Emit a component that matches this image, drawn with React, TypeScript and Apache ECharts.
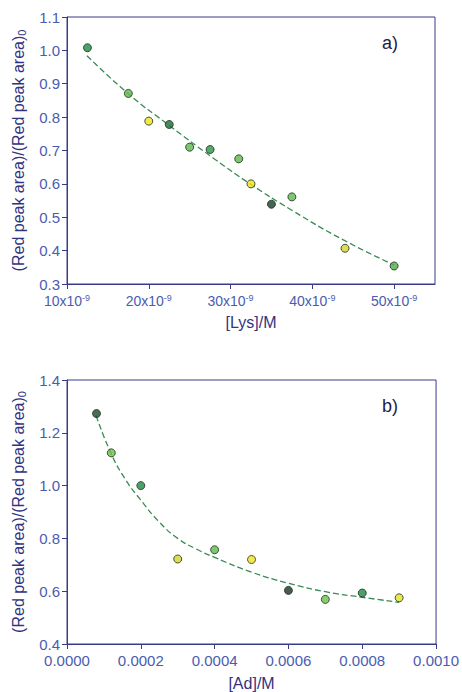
import React, { useEffect, useRef } from "react";
import * as echarts from "echarts";

// Panel a) : [Lys] in units of 1e-9 M
const lysX = [12.5, 17.5, 20, 22.5, 25, 27.5, 31, 32.5, 35, 37.5, 44, 50];
const lysY = [1.008, 0.871, 0.788, 0.778, 0.71, 0.703, 0.675, 0.6, 0.539, 0.561, 0.407, 0.354];
const lysFitX = [12.44, 17.45, 22.4, 27.9, 32.4, 37.5, 43.8, 50];
const lysFitY = [0.984, 0.871, 0.777, 0.677, 0.6, 0.521, 0.432, 0.357];
const lysColors = ["#1f8a43", "#5cb947", "#f0e21a", "#1e6b35", "#5cb947", "#2a9445", "#5cb947", "#f2e41c", "#1a3d24", "#5cb947", "#d4d42a", "#4fae45"];
const lysTicks = [10, 20, 30, 40, 50];

// Panel b) : [Ad] in M
const adX = [0.00008, 0.00012, 0.0002, 0.0003, 0.0004, 0.0005, 0.0006, 0.0007, 0.0008, 0.0009];
const adY = [1.273, 1.124, 1.0, 0.722, 0.757, 0.72, 0.603, 0.569, 0.593, 0.575];
const adFitX = [0.000079, 0.00012, 0.00016, 0.0002, 0.00025, 0.0003, 0.00035, 0.0004, 0.0005, 0.0006, 0.0007, 0.0008, 0.0009];
const adFitY = [1.265, 1.12, 1.02, 0.945, 0.862, 0.8, 0.76, 0.728, 0.672, 0.63, 0.598, 0.577, 0.558];
const adColors = ["#1d4a2a", "#6cc04a", "#1f8a43", "#d4d42a", "#5cb947", "#f2e41c", "#1a3322", "#6cc04a", "#1f8a43", "#e2e22a"];

const FONT = "Liberation Sans, Arial, sans-serif";
const NAVY = "#3a3a8a";
const TICKBLUE = "#4a5cb0";
const TITLE = "#33337f";

export default function App() {
  const ref = useRef<HTMLDivElement>(null);
  useEffect(() => {
    if (!ref.current) return;
    const chart = echarts.init(ref.current, null, { renderer: "svg" });
    const axisCommon = {
      axisLine: { show: true, lineStyle: { color: NAVY, width: 1 } },
      axisTick: { show: true, inside: false, length: 5, lineStyle: { color: NAVY } },
      splitLine: { show: false },
    };
    const yName = "{m|(Red peak area)/(Red peak area)}{s|0}";
    const yNameStyle = {
      fontFamily: FONT,
      color: TITLE,
      rich: {
        m: { fontSize: 16, fontFamily: FONT, color: TITLE },
        s: { fontSize: 11, fontFamily: FONT, color: TITLE, padding: [6, 0, 0, 0] },
      },
    };
    const fitLine = { color: "#3a8a55", width: 1.3, type: [6, 3] };
    const option: any = {
      animation: false,
      grid: [
        { left: 67, top: 17, width: 368, height: 267, show: true, borderColor: NAVY, borderWidth: 1, backgroundColor: "transparent" },
        { left: 67, top: 380, width: 371, height: 264, show: true, borderColor: NAVY, borderWidth: 1, backgroundColor: "transparent" },
      ],
      xAxis: [
        {
          ...axisCommon,
          type: "value",
          gridIndex: 0,
          min: 10,
          max: 55,
          interval: 10,
          name: "[Lys]/M",
          nameLocation: "middle",
          nameGap: 30,
          nameTextStyle: { fontFamily: FONT, fontSize: 16, color: TITLE },
          axisLabel: {
            showMaxLabel: false,
            margin: 9,
            formatter: (v: number) => (lysTicks.includes(v) ? `{n|${v}x10}{s|-9}` : ""),
            rich: {
              n: { fontSize: 14, fontFamily: FONT, color: TICKBLUE },
              s: { fontSize: 9, fontFamily: FONT, color: TICKBLUE, verticalAlign: "top", padding: [0, 0, 7, 0] },
            },
          },
        },
        {
          ...axisCommon,
          type: "value",
          gridIndex: 1,
          min: 0,
          max: 0.001,
          interval: 0.0002,
          name: "[Ad]/M",
          nameLocation: "middle",
          nameGap: 31,
          nameTextStyle: { fontFamily: FONT, fontSize: 16, color: TITLE },
          axisLabel: {
            margin: 9,
            fontFamily: FONT,
            fontSize: 15,
            color: TICKBLUE,
            formatter: (v: number) => v.toFixed(4),
          },
        },
      ],
      yAxis: [
        {
          ...axisCommon,
          type: "value",
          gridIndex: 0,
          min: 0.3,
          max: 1.1,
          interval: 0.1,
          name: yName,
          nameLocation: "middle",
          nameRotate: 90,
          nameGap: 40,
          nameTextStyle: yNameStyle,
          axisLabel: { margin: 7, fontFamily: FONT, fontSize: 15, color: TICKBLUE, formatter: (v: number) => v.toFixed(1) },
        },
        {
          ...axisCommon,
          type: "value",
          gridIndex: 1,
          min: 0.4,
          max: 1.4,
          interval: 0.2,
          name: yName,
          nameLocation: "middle",
          nameRotate: 90,
          nameGap: 40,
          nameTextStyle: yNameStyle,
          axisLabel: { margin: 7, fontFamily: FONT, fontSize: 15, color: TICKBLUE, formatter: (v: number) => v.toFixed(1) },
        },
      ],
      graphic: [
        { type: "text", left: 382, top: 34, style: { text: "a)", fontSize: 18, fontFamily: FONT, fill: "#1c1c4a" } },
        { type: "text", left: 382, top: 397, style: { text: "b)", fontSize: 18, fontFamily: FONT, fill: "#1c1c4a" } },
      ],
      series: [
        {
          type: "line",
          xAxisIndex: 0,
          yAxisIndex: 0,
          smooth: true,
          symbol: "none",
          lineStyle: fitLine,
          data: lysFitX.map((x, i) => [x, lysFitY[i]]),
          z: 2,
        },
        {
          type: "scatter",
          xAxisIndex: 0,
          yAxisIndex: 0,
          symbolSize: 8,
          data: lysX.map((x, i) => ({
            value: [x, lysY[i]],
            itemStyle: { color: lysColors[i], borderColor: "#1b2e1b", borderWidth: 1 },
          })),
          z: 3,
        },
        {
          type: "line",
          xAxisIndex: 1,
          yAxisIndex: 1,
          smooth: true,
          symbol: "none",
          lineStyle: fitLine,
          data: adFitX.map((x, i) => [x, adFitY[i]]),
          z: 2,
        },
        {
          type: "scatter",
          xAxisIndex: 1,
          yAxisIndex: 1,
          symbolSize: 8,
          data: adX.map((x, i) => ({
            value: [x, adY[i]],
            itemStyle: { color: adColors[i], borderColor: "#1b2e1b", borderWidth: 1 },
          })),
          z: 3,
        },
      ],
    };
    chart.setOption(option);
    return () => chart.dispose();
  }, []);
  return (
    <div
      ref={ref}
      style={{ position: "fixed", left: 0, top: 0, width: 462, height: 692, background: "#ffffff" }}
    />
  );
}
